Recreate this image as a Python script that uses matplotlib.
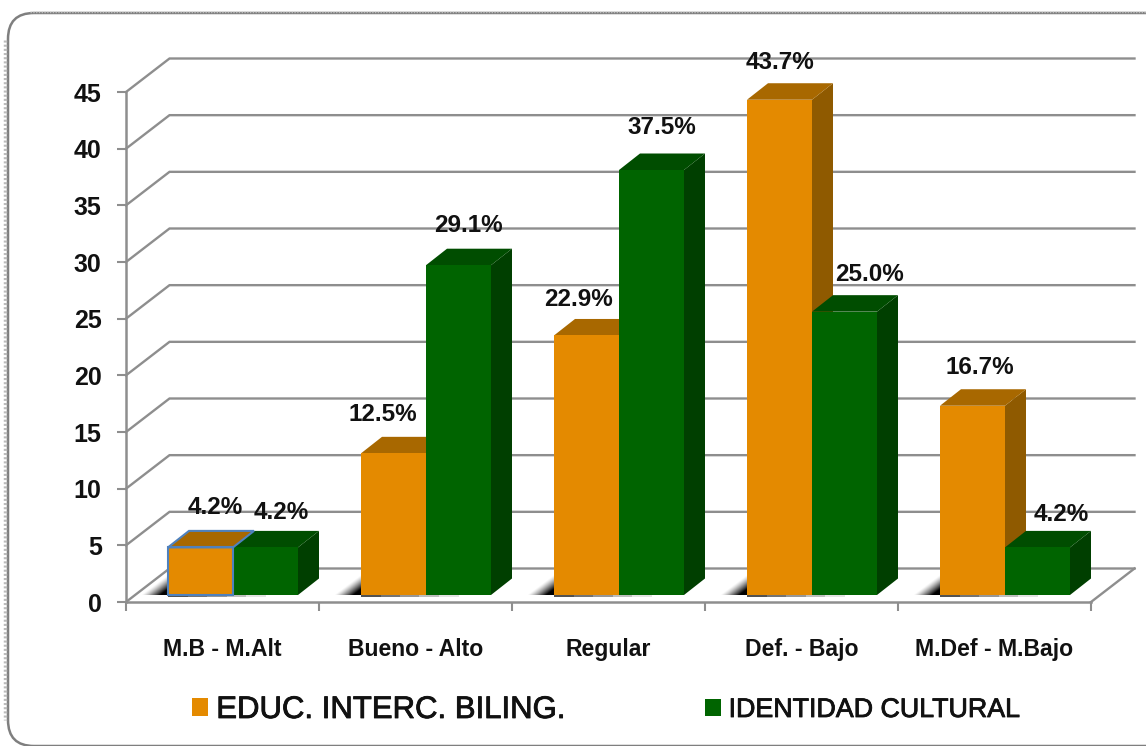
import numpy as np
import matplotlib
matplotlib.use("Agg")
import matplotlib.pyplot as plt
import matplotlib.patheffects as pe
from matplotlib.patches import FancyBboxPatch, Polygon, Patch

plt.rcParams['font.family'] = ['Liberation Sans', 'DejaVu Sans']

# ---- data ----
categories = ["M.B - M.Alt", "Bueno - Alto", "Regular", "Def. - Bajo", "M.Def - M.Bajo"]
educ = [4.2, 12.5, 22.9, 43.7, 16.7]
identidad = [4.2, 29.1, 37.5, 25.0, 4.2]
series_names = ["EDUC. INTERC. BILING.", "IDENTIDAD CULTURAL"]
yticks = list(range(0, 50, 5))

# ---- style / layout ----
W, H = 1146, 746
PX_X0, PX_X1, PX_Y0, PX_Y1 = 126, 1091, 602, 92
ORANGE = ("#E48A00", "#A86800", "#8F5A00")
GREEN = ("#006400", "#004D00", "#003F00")
GRID = "#8E8E8E"
INK = "#111111"
SELECT = "#4F81BD"
orange_offsets = [(15, 40), (-11, 39), (-8, 36), (1, 37), (7, 38)]
green_offsets = [(16, 35), (10, 40), (10, 42), (25, 37), (24, 33)]
heavy = [pe.withStroke(linewidth=0.6, foreground=INK)]

fig = plt.figure(figsize=(W / 100, H / 100), dpi=100, facecolor="white")

# rounded panel, in pixel-like figure coordinates
bg = fig.add_axes([0, 0, 1, 1], zorder=0)
bg.set_xlim(0, W)
bg.set_ylim(H, 0)
bg.axis("off")
bg.add_patch(FancyBboxPatch((8, 13), 1180, 733, boxstyle="round,pad=0,rounding_size=26",
                            fc="white", ec="#7F7F7F", lw=1.8))
bg.plot([4.5, 4.5], [40, 720], color="#BBBBBB", lw=2.5, ls=(0, (0.6, 0.6)))
bg.plot([30, 1146], [12, 12], color="#BBBBBB", lw=1, ls=(0, (1, 1)))

ax = fig.add_axes([PX_X0 / W, 1 - PX_Y0 / H, (PX_X1 - PX_X0) / W, (PX_Y0 - PX_Y1) / H], zorder=1)
ax.patch.set_alpha(0)
n = len(categories)

ux = (PX_X1 - PX_X0) / n      # px per category
uy = (PX_Y0 - PX_Y1) / 45     # px per value unit
wall_dx, wall_dy = 43.5 / ux, 33.5 / uy
bar_dx, bar_dy = 21 / ux, 16.5 / uy
base = 7 / uy
bar_w = 65 / ux
bar_start = 42 / ux

# walls
for t in yticks:
    ax.plot([0, wall_dx, n + wall_dx], [t, t + wall_dy, t + wall_dy], color=GRID, lw=1.7,
            clip_on=False, zorder=1, solid_joinstyle="miter")
ax.plot([n, n + wall_dx], [0, wall_dy], color=GRID, lw=1.7, clip_on=False, zorder=1)


def floor_shadow(left):
    w, h = 27 / ux, 21 / uy
    u, v = np.meshgrid(np.linspace(0, 1, 60), np.linspace(0, 1, 60))
    alpha = np.clip((u + (1 - v) - 1) * 1.45, 0, 1) ** 1.3
    img = np.zeros((60, 60, 4))
    img[..., 3] = alpha
    ax.imshow(img, extent=(left - w, left + 0.002, base, base + h), origin="lower",
              aspect="auto", zorder=2, clip_on=False, interpolation="bilinear")
    # dark contact line under the bars, fading to the right
    for k, a in enumerate((0.75, 0.6, 0.45, 0.28, 0.12)):
        ax.plot([left + k * 0.3 * bar_w, left + (k + 1) * 0.3 * bar_w], [base - 0.1, base - 0.1],
                color="black", lw=1.3, alpha=a, zorder=2.5, clip_on=False, solid_capstyle="butt")


def bar3d(left, value, colors, z):
    right = left + bar_w
    top = base + value
    ax.add_patch(Polygon([(right, base), (right + bar_dx, base + bar_dy), (right + bar_dx, top + bar_dy), (right, top)],
                         closed=True, fc=colors[2], ec="none", zorder=z, clip_on=False))
    ax.add_patch(Polygon([(left, top), (right, top), (right + bar_dx, top + bar_dy), (left + bar_dx, top + bar_dy)],
                         closed=True, fc=colors[1], ec="none", zorder=z + 0.1, clip_on=False))
    ax.bar(left, value, bar_w, bottom=base, align="edge", color=colors[0], zorder=z + 0.2,
           linewidth=0, clip_on=False)


for i in range(n):
    left = i + bar_start
    floor_shadow(left)
    bar3d(left, educ[i], ORANGE, 3 + i)
    bar3d(left + bar_w, identidad[i], GREEN, 3.5 + i)
    for vals, off, w_i in ((educ, orange_offsets, 0), (identidad, green_offsets, 1)):
        ax.annotate(f"{vals[i]:.1f}%", xy=(left + (w_i + 0.5) * bar_w, base + vals[i]),
                    xytext=(off[i][0] * 0.72, off[i][1] * 0.72), textcoords="offset points",
                    ha="center", va="center", fontsize=17.5, fontweight="bold",
                    color=INK, zorder=30, annotation_clip=False)

# selection outline of the first orange bar (front and top faces)
left0, top0 = bar_start, base + educ[0]
ax.add_patch(Polygon([(left0, base), (left0 + bar_w, base), (left0 + bar_w, top0), (left0, top0)],
                     closed=True, fc="none", ec=SELECT, lw=1.5, zorder=20, clip_on=False))
ax.add_patch(Polygon([(left0, top0), (left0 + bar_w, top0), (left0 + bar_w + bar_dx, top0 + bar_dy), (left0 + bar_dx, top0 + bar_dy)],
                     closed=True, fc="none", ec=SELECT, lw=1.5, zorder=20, clip_on=False))

ax.set_xlim(0, n)
ax.set_ylim(0, 45)
for s in ("top", "right"):
    ax.spines[s].set_visible(False)
for s in ("left", "bottom"):
    ax.spines[s].set_color(GRID)
    ax.spines[s].set_linewidth(1.8)
    ax.spines[s].set_zorder(2)

ax.set_yticks(yticks)
ax.set_yticklabels([str(t) for t in yticks], fontsize=18, fontweight="bold", color=INK)
ax.tick_params(axis="y", which="major", length=6.5, width=1.5, color=GRID, pad=11)
ax.set_xticks(np.arange(n + 1))
ax.set_xticklabels([])
ax.set_xticks(np.arange(n) + 0.5, minor=True)
ax.set_xticklabels(categories, minor=True, fontsize=16.6, fontweight="bold", color=INK)
ax.tick_params(axis="x", which="major", length=6.5, width=1.5, color=GRID)
ax.tick_params(axis="x", which="minor", length=0, pad=26)

# two legend entries, with their own widths as in the reference
leg1 = fig.legend([Patch(fc=ORANGE[0], ec="none")], [series_names[0]], loc="center left",
                  bbox_to_anchor=(192 / W, 1 - 710 / H), frameon=False,
                  prop={"size": 22.4}, handlelength=0.5, handleheight=0.5,
                  handletextpad=0.28, borderpad=0, borderaxespad=0)
leg2 = fig.legend([Patch(fc=GREEN[0], ec="none")], [series_names[1]], loc="center left",
                  bbox_to_anchor=(705 / W, 1 - 710 / H), frameon=False,
                  prop={"size": 19.3},
                  handlelength=0.58, handleheight=0.58,
                  handletextpad=0.3, borderpad=0, borderaxespad=0)
for leg in (leg1, leg2):
    for t in leg.get_texts():
        t.set_color(INK)
        t.set_path_effects(heavy)

fig.savefig("out.png", dpi=100, facecolor="white")
